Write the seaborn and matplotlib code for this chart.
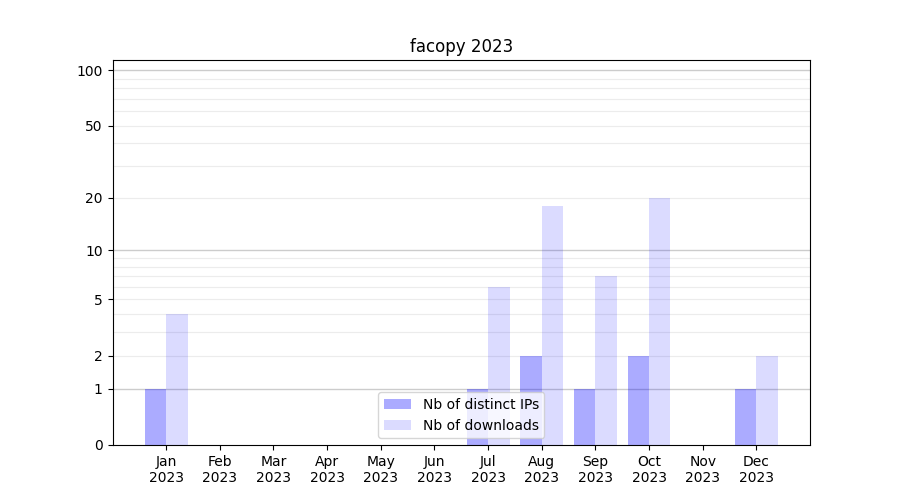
import numpy as np
import pandas as pd
import seaborn as sns
import matplotlib.pyplot as plt

months = ['Jan', 'Feb', 'Mar', 'Apr', 'May', 'Jun',
          'Jul', 'Aug', 'Sep', 'Oct', 'Nov', 'Dec']
year = '2023'
distinct_ips = [1, 0, 0, 0, 0, 0, 1, 2, 1, 2, 0, 1]
downloads = [4, 0, 0, 0, 0, 0, 6, 18, 7, 20, 0, 2]
y_ticks = [0, 1, 2, 5, 10, 20, 50, 100]


def fwd(v):
    return np.log10(1 + np.maximum(v, 0))


def inv(v):
    return 10 ** v - 1


labels = [f'{m}\n{year}' for m in months]
kinds = ['Nb of distinct IPs', 'Nb of downloads']
df = pd.DataFrame({
    'month': labels * 2,
    'count': distinct_ips + downloads,
    'kind': [kinds[0]] * 12 + [kinds[1]] * 12,
})

fig, ax = plt.subplots(figsize=(9, 5), dpi=100)
ax.set_yscale('function', functions=(fwd, inv))

sns.barplot(data=df, x='month', y='count', hue='kind', order=labels,
            palette=['#ababff', '#dcdcff'], saturation=1, linewidth=0,
            width=0.8, ax=ax)

# semi transparent blue so the grid shows through
alphas = {'#ababff': 0.33, '#dcdcff': 0.14}
for p in ax.patches:
    fc = p.get_facecolor()
    a = 0.33 if fc[0] < 0.75 else 0.14
    p.set_facecolor((0, 0, 1, a))

# grid lines: darker on decades, light in between
for v in [1, 10, 100]:
    ax.axhline(v, color='#cccccc', linewidth=1, zorder=0.5)
for v in list(range(2, 10)) + list(range(20, 100, 10)):
    ax.axhline(v, color='#ececec', linewidth=0.8, zorder=0.5)

ax.set_ylim(0, 113.5)
ax.set_xlim(-1, 12)
ax.set_yticks(y_ticks)
ax.set_yticklabels([str(t) for t in y_ticks])
ax.minorticks_off()
ax.set_xlabel('')
ax.set_ylabel('')
ax.set_title('facopy 2023')
ax.legend(loc='lower center')

plt.savefig('out.png')
